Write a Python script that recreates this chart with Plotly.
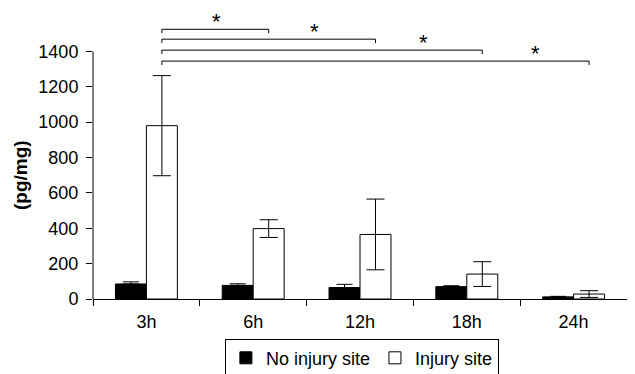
import plotly.graph_objects as go

categories = ["3h", "6h", "12h", "18h", "24h"]
no_injury = [85, 77, 65, 70, 12]
no_injury_err = [12, 9, 18, 5, 3]
injury = [980, 398, 365, 141, 28]
injury_err = [283, 50, 200, 70, 19]
y_ticks = [0, 200, 400, 600, 800, 1000, 1200, 1400]
# significance brackets: (start category index, end category index, height, star position)
brackets = [(0, 1, 1525, 0.66), (0, 2, 1469, 1.57), (0, 3, 1407, 2.59), (0, 4, 1345, 3.64)]

FONT = "Liberation Sans, Arial, sans-serif"

fig = go.Figure()
fig.add_trace(go.Bar(
    x=categories, y=no_injury, name="No injury site",
    marker=dict(color="black", line=dict(color="black", width=1)),
    error_y=dict(type="data", array=no_injury_err, symmetric=False, arrayminus=[0]*5,
                 color="black", thickness=1, width=8),
))
fig.add_trace(go.Bar(
    x=categories, y=injury, name="Injury site",
    marker=dict(color="white", line=dict(color="black", width=1)),
    error_y=dict(type="data", array=injury_err, color="black", thickness=1, width=9),
))

bargap = 0.42
off = (1 - bargap) / 4
shapes = []
annotations = []
tick = 22
for (a, b, h, sx) in brackets:
    x0 = a + off
    x1 = b + off
    shapes.append(dict(type="line", xref="x", yref="y", x0=x0, x1=x1, y0=h, y1=h,
                       line=dict(color="black", width=1)))
    shapes.append(dict(type="line", xref="x", yref="y", x0=x0, x1=x0, y0=h, y1=h - tick,
                       line=dict(color="black", width=1)))
    shapes.append(dict(type="line", xref="x", yref="y", x0=x1, x1=x1, y0=h, y1=h - tick,
                       line=dict(color="black", width=1)))
    annotations.append(dict(x=sx, y=h, xref="x", yref="y", text="*", showarrow=False,
                            yanchor="bottom", yshift=-7,
                            font=dict(family=FONT, size=22, color="black")))

# y axis line drawn only from 0 to 1400
shapes.append(dict(type="line", xref="paper", yref="y", x0=0, x1=0, y0=0, y1=1400,
                   line=dict(color="black", width=1)))

annotations.append(dict(x=-0.137, y=700, xref="paper", yref="y", text="<b>(pg/mg)</b>",
                        textangle=-90, showarrow=False, xanchor="center", yanchor="middle",
                        font=dict(family=FONT, size=19, color="black")))

fig.update_layout(
    width=627, height=366,
    margin=dict(l=85, r=8, t=8, b=75, autoexpand=False),
    paper_bgcolor="white", plot_bgcolor="white",
    barmode="group", bargap=bargap, bargroupgap=0,
    font=dict(family=FONT, size=18, color="black"),
    shapes=shapes, annotations=annotations,
    showlegend=True,
    legend=dict(orientation="h", x=0.247, y=-0.14, xanchor="left", yanchor="top",
                bordercolor="black", borderwidth=1, bgcolor="white",
                font=dict(family=FONT, size=18, color="black"),
                itemwidth=30, tracegroupgap=0),
)
fig.update_xaxes(type="category", showline=True, linecolor="black", linewidth=1,
                 ticks="outside", ticklen=6, tickcolor="black", tickson="boundaries",
                 showgrid=False, tickfont=dict(family=FONT, size=18), range=[-0.5, 4.5],
                 ticklabelstandoff=6)
fig.update_yaxes(range=[0, 1600], tickvals=y_ticks, showline=False, ticks="outside",
                 ticklen=6, tickcolor="black", showgrid=False, zeroline=False,
                 tickfont=dict(family=FONT, size=18), ticklabelstandoff=4)

fig.write_html("out.html")
